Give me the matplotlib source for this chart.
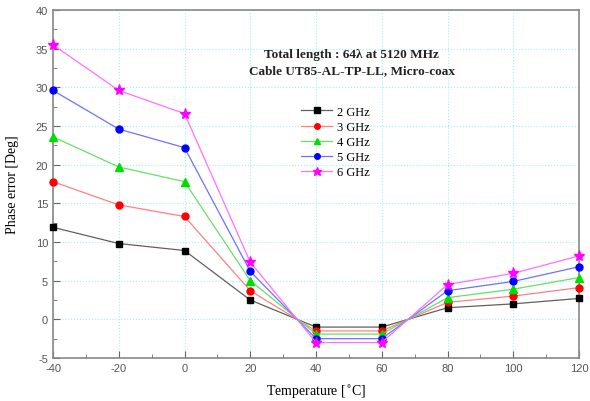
"""
Phase error vs temperature, cable UT85-AL-TP-LL
"""

import matplotlib
matplotlib.use('agg')
import matplotlib.pyplot as plt
from matplotlib.ticker import MultipleLocator

plt.rcParams['axes.unicode_minus'] = False

# ------------- data ---------------------------------
temps = [-40, -20, 0, 20, 40, 60, 80, 100, 120]
labels = ['2 GHz', '3 GHz', '4 GHz', '5 GHz', '6 GHz']
err_2ghz = [11.9, 9.8, 8.9, 2.5, -1.0, -1.0, 1.5, 2.0, 2.7]
err_3ghz = [17.8, 14.8, 13.3, 3.7, -1.5, -1.5, 2.2, 3.0, 4.1]
err_4ghz = [23.6, 19.7, 17.8, 5.0, -1.9, -1.9, 2.8, 3.9, 5.4]
err_5ghz = [29.6, 24.6, 22.2, 6.2, -2.5, -2.5, 3.7, 4.9, 6.8]
err_6ghz = [35.5, 29.6, 26.6, 7.4, -3.0, -3.0, 4.5, 5.95, 8.2]

series = [err_2ghz, err_3ghz, err_4ghz, err_5ghz, err_6ghz]
marker_colors = ['#000000', '#ff0000', '#00dd00', '#0000ff', '#ff00ff']
line_colors = ['#606060', '#ff8080', '#66e066', '#7070ff', '#ff70ff']
markers = ['s', 'o', '^', 'o', '*']
msizes = [5, 5, 6, 5, 8]

serif = ['Liberation Serif', 'DejaVu Serif']
sans = ['Liberation Sans', 'DejaVu Sans']

# ----------- figure setup --------------------------------
fig = plt.figure(figsize=(5.9, 4.02), dpi=100)
ax = fig.add_axes([53 / 590, 1 - 359 / 402, 526 / 590, 348 / 402])

for vals, mc, lc, m, ms, lab in zip(series, marker_colors, line_colors,
                                    markers, msizes, labels):
    ax.plot(temps, vals, color=lc, lw=0.9, marker=m, ms=ms,
            mfc=mc, mec=mc, label=lab, clip_on=False, zorder=3)

ax.set_xlim(-40, 120)
ax.set_ylim(-5, 40)
ax.xaxis.set_major_locator(MultipleLocator(20))
ax.xaxis.set_minor_locator(MultipleLocator(10))
ax.yaxis.set_major_locator(MultipleLocator(5))
ax.yaxis.set_minor_locator(MultipleLocator(2.5))
ax.grid(True, which='major', color='#a0f0f0', linestyle=':', lw=0.8)
ax.tick_params(which='both', direction='in', top=False, right=False,
               color='#666666', labelcolor='#555555', labelsize=8)
ax.tick_params(which='major', length=5)
ax.tick_params(which='minor', length=3)
for lbl in ax.get_xticklabels() + ax.get_yticklabels():
    lbl.set_family(sans)
for sp in ax.spines.values():
    sp.set_color('#888888')
    sp.set_linewidth(1.2)

ax.set_xlabel('Temperature [$^{\\circ}$C]', family=serif, fontsize=10,
              labelpad=7)
ax.set_ylabel('Phase error [Deg]', family=serif, fontsize=10, labelpad=12)

ax.text(0.568, 0.85, 'Total length : 64λ at 5120 MHz\n'
        'Cable UT85-AL-TP-LL, Micro-coax', transform=ax.transAxes,
        ha='center', va='center', family=serif, fontsize=9.5,
        fontweight='bold', color='#222222', linespacing=1.45)

ax.legend(loc='upper left', bbox_to_anchor=(0.455, 0.75), frameon=False,
          prop={'family': serif, 'size': 9}, handlelength=2.5,
          labelspacing=0.25, borderpad=0.2, handletextpad=0.4,
          markerscale=0.8)

plt.savefig('out.png', dpi=100)
